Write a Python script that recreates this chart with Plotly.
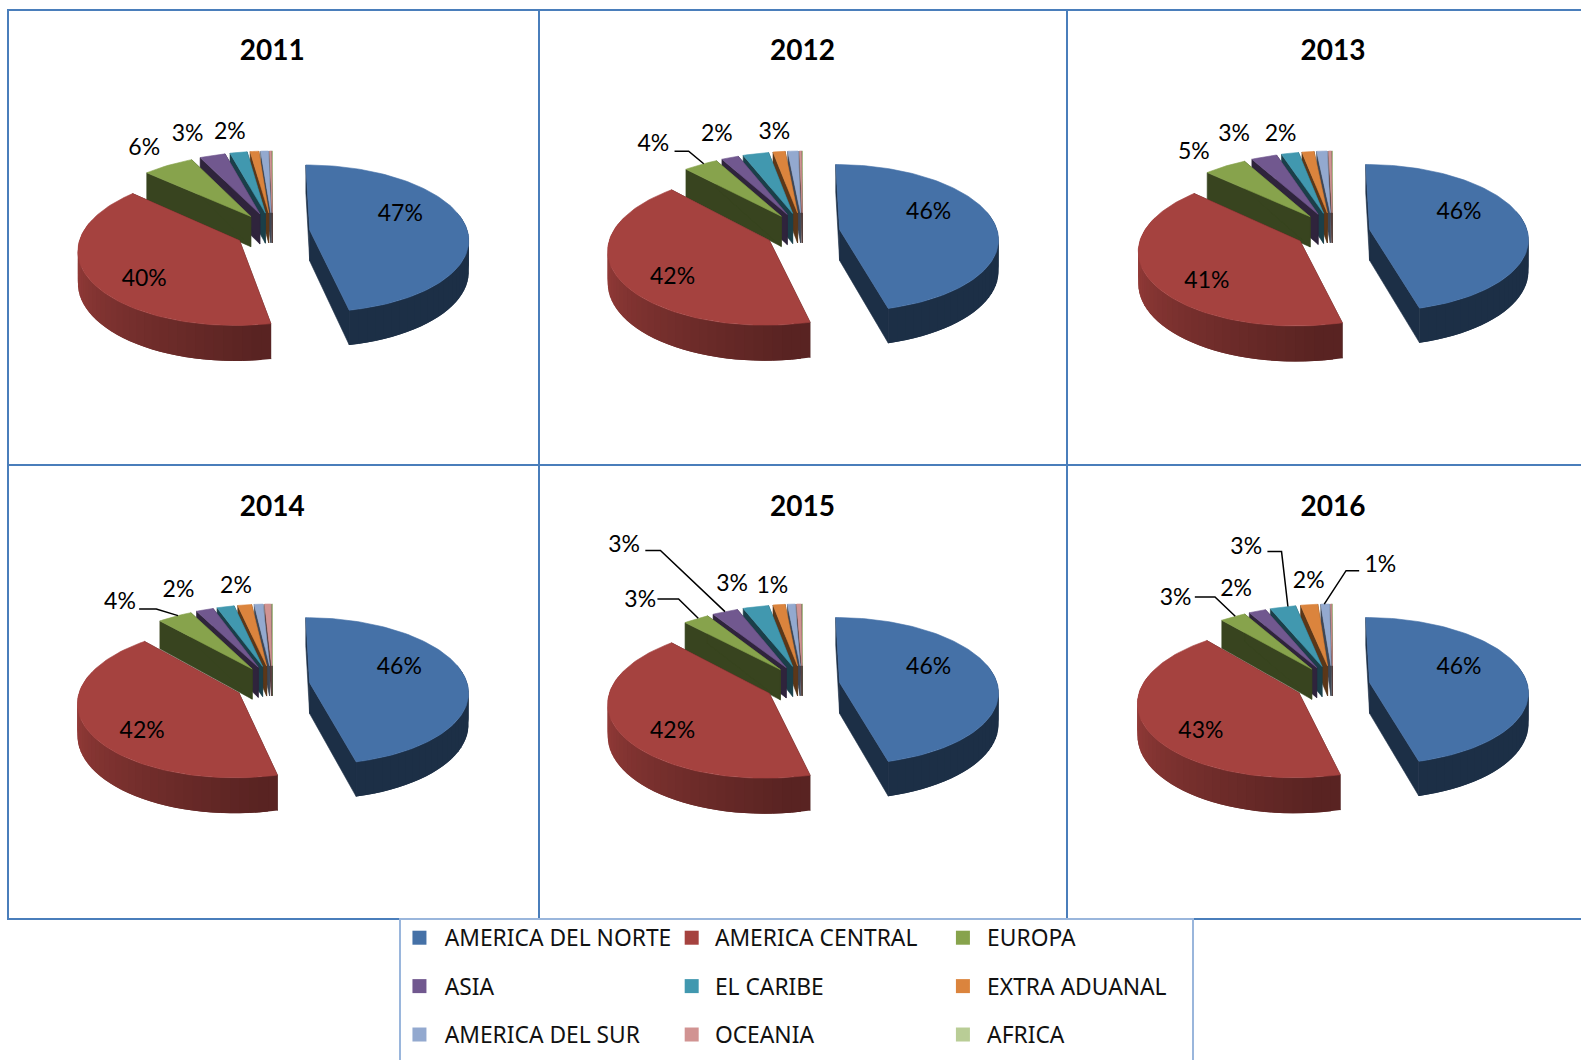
import math
import plotly.graph_objects as go

years = [2011, 2012, 2013, 2014, 2015, 2016]
series = ["AMERICA DEL NORTE", "AMERICA CENTRAL", "EUROPA", "ASIA", "EL CARIBE",
          "EXTRA ADUANAL", "AMERICA DEL SUR", "OCEANIA", "AFRICA"]
v2011 = [46.9, 40, 6, 3, 2, 1.0, 0.9, 0.2, 0.1]
v2012 = [45.9, 42, 4, 2, 3, 1.4, 1.2, 0.2, 0.1]
v2013 = [45.75, 41, 5, 3, 2, 1.4, 1.2, 0.3, 0.1]
v2014 = [45.85, 42, 4, 2, 2, 1.6, 1.0, 0.7, 0.1]
v2015 = [45.9, 42, 3, 3, 3, 1.4, 0.9, 0.5, 0.1]
v2016 = [46.05, 43, 3, 2, 3, 2.0, 1.0, 0.1, 0.1]
values = [v2011, v2012, v2013, v2014, v2015, v2016]

# ---- styling and layout -------------------------------------------------
colors = ["#4571a7", "#a5423f", "#87a34c", "#71588f", "#4198af",
          "#db843d", "#93a9cf", "#d19392", "#b9cd96"]
W, H = 1581, 1060
SC = 1581 / 1568          # reference view -> page pixels
PANEL_X = [8, 538, 1068]
PANEL_Y = [11, 464]
PANEL_W = [530, 530, 513]
PANEL_H = [453, 454]
FRAME = "#4a7ebb"
CX, CY = 264.6, 221.0     # pie centre inside a panel
RX, RY, DEPTH, K, EXPL, EXPL_Y = 158.0, 73.0, 31.0, 0.115, 0.2367, 1.15
FONT = "Lato"
TEXT_DY = 2.5             # baseline nudge for labels

# label placement, in reference-view pixels: (series index, x, y)
label_pos = [
    [(0, 397, 211), (1, 143, 275), (2, 143, 146), (3, 186, 132), (4, 228, 130)],
    [(0, 921, 209), (1, 667, 273), (2, 648, 142), (3, 711, 132), (4, 768, 130)],
    [(0, 1447, 209), (1, 1197, 277), (2, 1184, 150), (3, 1224, 132), (4, 1270, 132)],
    [(0, 396, 660), (1, 141, 724), (2, 119, 596), (3, 177, 584), (4, 234, 580)],
    [(0, 921, 660), (1, 667, 724), (2, 635, 594), (3, 619, 539), (4, 726, 578), (5, 766, 580)],
    [(0, 1447, 660), (1, 1191, 724), (2, 1166, 592), (3, 1226, 583), (4, 1236, 541),
     (5, 1298, 575), (6, 1369, 559)],
]
# leader lines: (series index, label-end x, y, elbow x, y, fraction along slice rim)
leaders = [
    [], [(2, 669, 150, 683, 150, 0.6)], [],
    [(2, 138, 604, 155, 604, 0.6)],
    [(2, 652, 594, 673, 594, 0.6), (3, 640, 546, 655, 546, 0.5)],
    [(2, 1185, 592, 1205, 592, 0.6), (4, 1257, 547, 1271, 547, 0.7), (6, 1348, 566, 1335, 566, 0.4)],
]


def scale(c, f):
    r, g, b = int(c[1:3], 16), int(c[3:5], 16), int(c[5:7], 16)
    return f"rgb({int(r*f)},{int(g*f)},{int(b*f)})"


def project(X, Y, Z=0.0):
    s = 1 / (1 + K * Y)
    return CX + X * s * RX, CY - Y * s * RY + Z * s * DEPTH


def offset(mid):
    c = math.cos(mid)
    return EXPL * math.sin(mid), EXPL * (EXPL_Y if c > 0 else 1.0) * c


def rim(th, mid):
    ox, oy = offset(mid)
    return ox + math.sin(th), oy + math.cos(th)


def wall_shade(i, deg):
    if i == 0:
        return 0.42
    return max(0.54, min(0.88, 0.54 + 0.34 * (deg - 172) / 85))


fig = go.Figure()


def poly(xs, ys, color, ax, lw=0.6):
    fig.add_trace(go.Scatter(x=xs, y=ys, mode="lines", fill="toself", fillcolor=color,
                             line=dict(color=color, width=lw), hoverinfo="skip",
                             showlegend=False, xaxis=ax[0], yaxis=ax[1]))


for p, (year, vals) in enumerate(zip(years, values)):
    col, row = p % 3, p // 3
    n = str(p + 1)
    ax = ("x" + n, "y" + n)
    total = sum(vals)
    spans, a = [], 0.0
    for v in vals:
        spans.append((a, a + v / total * 2 * math.pi))
        a += v / total * 2 * math.pi
    # painter's order: far small slices first, blue last
    for i in [8, 7, 6, 5, 4, 3, 2, 1, 0]:
        t0, t1 = spans[i]
        mid = (t0 + t1) / 2
        ox, oy = offset(mid)
        nseg = max(4, int(math.degrees(t1 - t0) / 1.5))
        ths = [t0 + (t1 - t0) * j / nseg for j in range(nseg + 1)]
        base = colors[i]
        # radial walls
        for th in (t0, t1):
            rx, ry = rim(th, mid)
            pts = [project(ox, oy), project(rx, ry), project(rx, ry, 1), project(ox, oy, 1)]
            poly([q[0] for q in pts] + [pts[0][0]], [q[1] for q in pts] + [pts[0][1]],
                 scale(base, 0.42), ax)
        # outer wall, front-facing pieces only, each overlapping the next
        for j in range(0, nseg, 2):
            a0, a1 = ths[j], ths[min(j + 4, nseg)]
            am = ths[min(j + 1, nseg)]
            if math.cos(am) > 0.25:
                continue
            r0, r1 = rim(a0, mid), rim(a1, mid)
            rm = rim((a0 + a1) / 2, mid)
            pts = [project(*r0), project(*rm), project(*r1),
                   project(*r1, 1), project(*rm, 1), project(*r0, 1)]
            poly([q[0] for q in pts] + [pts[0][0]], [q[1] for q in pts] + [pts[0][1]],
                 scale(base, wall_shade(i, math.degrees(am))), ax, lw=0)
        # top face
        pts = [project(ox, oy)] + [project(*rim(th, mid)) for th in ths]
        poly([q[0] for q in pts] + [pts[0][0]], [q[1] for q in pts] + [pts[0][1]], base, ax)

    ox0, oy0 = PANEL_X[col], PANEL_Y[row]
    # leader lines
    for (i, lx, ly, ex, ey, frac) in leaders[p]:
        t0, t1 = spans[i]
        mid = (t0 + t1) / 2
        end = project(*rim(t0 + (t1 - t0) * frac, mid))
        fig.add_trace(go.Scatter(x=[lx * SC - ox0, ex * SC - ox0, end[0]],
                                 y=[ly * SC - oy0, ey * SC - oy0, end[1]],
                                 mode="lines", line=dict(color="#000000", width=1.5),
                                 hoverinfo="skip", showlegend=False, xaxis=ax[0], yaxis=ax[1]))
    # value labels
    fig.add_trace(go.Scatter(x=[q[1] * SC - ox0 for q in label_pos[p]],
                             y=[q[2] * SC - oy0 + TEXT_DY for q in label_pos[p]],
                             text=[f"{round(vals[q[0]])}%" for q in label_pos[p]],
                             mode="text", textposition="middle center",
                             textfont=dict(family=FONT, size=23, color="#000000"),
                             hoverinfo="skip", showlegend=False, xaxis=ax[0], yaxis=ax[1]))
    # panel title
    fig.add_trace(go.Scatter(x=[(270 + 526 * col) * SC - ox0], y=[(49 + 452 * row) * SC - oy0 + 4],
                             text=[f"<b>{year}</b>"], mode="text", textposition="middle center",
                             textfont=dict(family=FONT, size=28, color="#000000"),
                             hoverinfo="skip", showlegend=False, xaxis=ax[0], yaxis=ax[1]))

# legend panel built from the series names and colours
LX, LY, LW, LH = 401, 920, 791, 140
leg_x = [416 * SC - LX, 686 * SC - LX, 955 * SC - LX]
leg_tx = [441 * SC - LX, 709 * SC - LX, 979 * SC - LX]
leg_y = [930 * SC - LY, 978 * SC - LY, 1026 * SC - LY]
for i, name in enumerate(series):
    c, r = i % 3, i // 3
    fig.add_trace(go.Scatter(x=[leg_x[c]], y=[leg_y[r]], mode="markers",
                             marker=dict(symbol="square", size=14, color=colors[i]),
                             hoverinfo="skip", showlegend=False, xaxis="x7", yaxis="y7"))
    fig.add_trace(go.Scatter(x=[leg_tx[c]], y=[leg_y[r] + 3], text=[name], mode="text",
                             textposition="middle right",
                             textfont=dict(family="Noto Sans", size=22.8, color="#111111"),
                             hoverinfo="skip", showlegend=False, xaxis="x7", yaxis="y7"))

layout = dict(width=W, height=H, margin=dict(l=0, r=0, t=0, b=0), autosize=False,
              paper_bgcolor="white", plot_bgcolor="white", showlegend=False)
COMMON = dict(showgrid=False, zeroline=False, showticklabels=False, ticks="", fixedrange=True)

for p in range(6):
    col, row = p % 3, p // 3
    x0, y0, w, h = PANEL_X[col], PANEL_Y[row], PANEL_W[col], PANEL_H[row]
    inset = 1 if col == 0 else 0
    key = str(p + 1)
    # each shared frame line is drawn by one axis only
    layout["xaxis" + key] = dict(domain=[(x0 + inset) / W, (x0 + w) / W], range=[inset, w],
                                 anchor="y" + key, showline=True, linecolor=FRAME, linewidth=1.7,
                                 side="top" if row == 0 else "bottom", mirror=row == 0, **COMMON)
    layout["yaxis" + key] = dict(domain=[1 - (y0 + h) / H, 1 - y0 / H], range=[h, 0],
                                 anchor="x" + key, showline=col != 1, linecolor=FRAME, linewidth=1.7,
                                 mirror=col == 0, **COMMON)
layout["xaxis7"] = dict(domain=[LX / W, (LX + LW) / W], range=[0, LW], anchor="y7", side="top",
                        showline=True, linecolor="#9ab6dc", linewidth=1.5, **COMMON)
layout["yaxis7"] = dict(domain=[0, 1 - LY / H], range=[LH, 0], anchor="x7",
                        showline=True, linecolor="#9ab6dc", linewidth=1.5, mirror=True, **COMMON)

fig.update_layout(**layout)
fig.write_html("out.html", config=dict(displayModeBar=False),
               post_script="document.body.style.margin='0';document.documentElement.style.overflow='hidden';")
